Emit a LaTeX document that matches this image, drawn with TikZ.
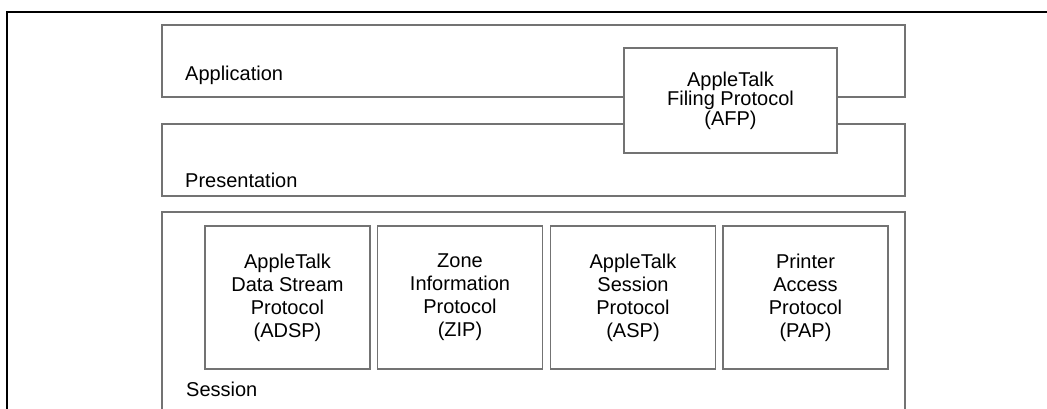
\documentclass[tikz,border=0pt]{standalone}
\usepackage{fontspec}
\setmainfont{Liberation Sans}
\begin{document}
\begin{tikzpicture}[x=1pt,y=-1pt,
  layer/.style={draw=black!55,line width=1.3pt},
  lbl/.style={font=\fontsize{20}{20}\selectfont,anchor=west,inner sep=0pt},
  protobox/.style={draw=black!55,line width=1.3pt,fill=white,rectangle,
    minimum width=165pt,minimum height=143pt,inner sep=0pt,
    font=\fontsize{20}{23}\selectfont,align=center},
  afpbox/.style={draw=black!55,line width=1.3pt,fill=white,rectangle,
    minimum width=213pt,minimum height=105pt,inner sep=0pt,
    font=\fontsize{20}{19.5}\selectfont,align=center}]
\useasboundingbox (0,0) rectangle (1047,409);
\fill[white] (0,0) rectangle (1047,409);
% outer frame (only top and left visible)
\draw[line width=2.2pt] (7,420) -- (7,12) -- (1060,12);
% layers
\draw[layer] (162,25) rectangle (905,97);
\draw[layer] (162,124) rectangle (905,196);
\draw[layer] (162,420) -- (162,212) -- (905,212) -- (905,420);
\node[lbl] (app) at (185,75) {Application};
\node[lbl] (pres) at (185,180) {Presentation};
\node[lbl] (sess) at (186,389) {Session};
% AFP
\node[afpbox] (afp) at (730.5,100.5) {AppleTalk\\Filing Protocol\\(AFP)};
% session protocols
\node[protobox] (adsp) at (287.5,297.5) {AppleTalk\\Data Stream\\Protocol\\(ADSP)};
\node[protobox] (zip) at (460,297.5) {Zone\\Information\\Protocol\\(ZIP)};
\node[protobox] (asp) at (633,297.5) {AppleTalk\\Session\\Protocol\\(ASP)};
\node[protobox] (pap) at (805.5,297.5) {Printer\\Access\\Protocol\\(PAP)};
\end{tikzpicture}
\end{document}
